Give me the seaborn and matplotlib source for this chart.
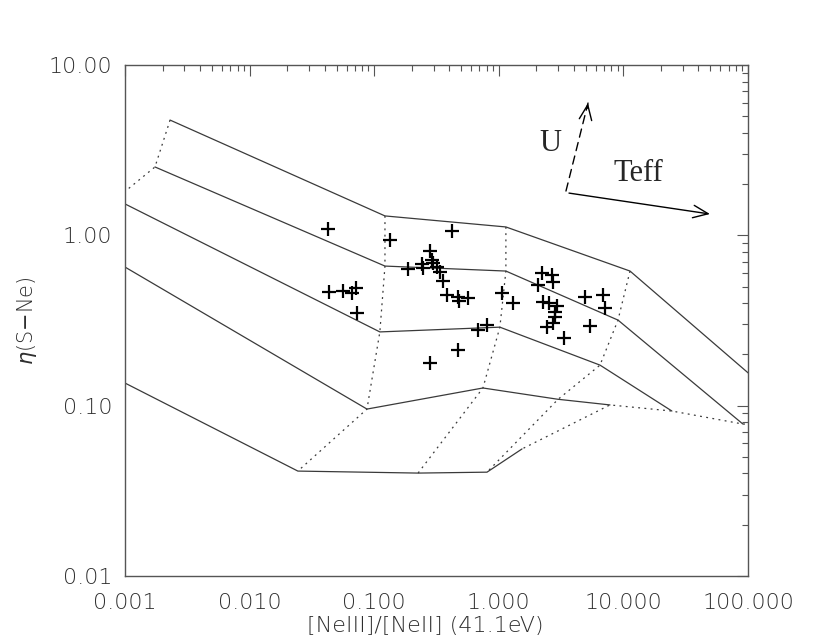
import numpy as np
import pandas as pd
import matplotlib
matplotlib.use("Agg")
import matplotlib.pyplot as plt
import matplotlib.ticker as mticker
import seaborn as sns

# ── Model grid (solid = rows, dotted = columns) ─────────────
# rows of the photoionisation grid, left -> right
row1_x = [0.0023, 0.122, 1.14, 11.3, 300.0]
row1_y = [4.75, 1.30, 1.12, 0.617, 0.078]
row2_x = [0.00174, 0.122, 1.14, 9.05, 91.0]
row2_y = [2.52, 0.660, 0.617, 0.318, 0.078]
row3_x = [0.00084, 0.111, 1.02, 6.49, 24.5]
row3_y = [1.63, 0.271, 0.289, 0.173, 0.093]
row4_x = [0.0005, 0.0875, 0.746, 2.99, 7.80]
row4_y = [0.877, 0.0955, 0.127, 0.109, 0.101]
row5_x = [0.0004, 0.0244, 0.225, 0.804, 1.535]
row5_y = [0.191, 0.0413, 0.0402, 0.0407, 0.0557]

rows_x = [row1_x, row2_x, row3_x, row4_x, row5_x]
rows_y = [row1_y, row2_y, row3_y, row4_y, row5_y]

# observed ratios
obs_ratio = [0.0426, 0.134, 0.421, 0.280, 0.291, 0.242, 0.296, 0.319, 0.187,
             0.246, 0.337, 0.357, 0.384, 0.471, 0.566, 0.480, 0.0434, 0.0562,
             0.0663, 0.0714, 0.0728, 0.681, 0.804, 0.471, 0.280,
             2.22, 2.67, 2.72, 2.06, 1.06, 1.30, 2.26, 2.53, 2.93, 2.83,
             2.83, 2.72, 2.44, 3.34, 4.92, 6.86, 7.12, 5.39]
obs_eta = [1.089, 0.938, 1.060, 0.809, 0.716, 0.678, 0.688, 0.652, 0.634,
           0.643, 0.609, 0.539, 0.446, 0.434, 0.428, 0.411, 0.465, 0.471,
           0.458, 0.490, 0.350, 0.278, 0.297, 0.212, 0.178,
           0.601, 0.585, 0.532, 0.511, 0.458, 0.400, 0.406, 0.400, 0.384, 0.354,
           0.331, 0.306, 0.289, 0.250, 0.434, 0.446, 0.374, 0.293]

x_ticks = [0.001, 0.01, 0.1, 1.0, 10.0, 100.0]
x_ticklabels = ["0.001", "0.010", "0.100", "1.000", "10.000", "100.000"]
y_ticks = [0.01, 0.1, 1.0, 10.0]
y_ticklabels = ["0.01", "0.10", "1.00", "10.00"]

# direction arrows (start, end) and labels
u_arrow = ((3.46, 1.82), (5.20, 5.98))
teff_arrow = ((3.66, 1.77), (49.5, 1.334))
u_label = (2.58, 3.48)
teff_label = (13.1, 2.32)

# ── Style ──────────────────────────────────────────────
sns.set_theme(style="white")
plt.rcParams["font.family"] = ["DejaVu Sans"]
plt.rcParams["mathtext.fontset"] = "dejavusans"

LINE_C = "#3a3a3a"
AX_C = "#555555"
TXT_C = "#2e2e2e"

fig = plt.figure(figsize=(8.3, 6.41), dpi=100)
ax = fig.add_axes([125 / 830, 1 - 576 / 641, 623 / 830, 511 / 641])
ax.set_xscale("log")
ax.set_yscale("log")
ax.set_xlim(1e-3, 1e2)
ax.set_ylim(1e-2, 1e1)

# solid rows
for xs, ys in zip(rows_x, rows_y):
    sns.lineplot(x=xs, y=ys, sort=False, estimator=None, color=LINE_C,
                 linewidth=0.9, ax=ax)

# dotted columns (same node index across rows)
for j in range(len(row1_x)):
    cx = [r[j] for r in rows_x]
    cy = [r[j] for r in rows_y]
    sns.lineplot(x=cx, y=cy, sort=False, estimator=None, color=LINE_C,
                 linewidth=0.9, linestyle=(0, (1.5, 3.5)), ax=ax)

# observations
sns.scatterplot(x=obs_ratio, y=obs_eta, marker="+", s=95, color="black",
                linewidth=1.6, ax=ax, zorder=5)

# arrows
ax.annotate("", xy=u_arrow[1], xytext=u_arrow[0],
            arrowprops=dict(arrowstyle="-", color="black", lw=1.0,
                            linestyle=(0, (6, 4)), shrinkA=0, shrinkB=0))
ax.annotate("", xy=u_arrow[1], xytext=(u_arrow[1][0] * 0.985, u_arrow[1][1] * 0.93),
            arrowprops=dict(arrowstyle="->,head_length=0.6,head_width=0.25",
                            color="black", lw=1.0, shrinkA=0, shrinkB=0,
                            mutation_scale=18))
ax.annotate("", xy=teff_arrow[1], xytext=teff_arrow[0],
            arrowprops=dict(arrowstyle="->,head_length=0.6,head_width=0.25",
                            color="black", lw=1.0, shrinkA=0, shrinkB=0,
                            mutation_scale=18))
ax.text(*u_label, "U", family="Liberation Serif", fontsize=22,
        ha="center", va="center")
ax.text(*teff_label, "Teff", family="Liberation Serif", fontsize=22,
        ha="center", va="center")

# axes cosmetics
ax.xaxis.set_major_locator(mticker.FixedLocator(x_ticks))
ax.yaxis.set_major_locator(mticker.FixedLocator(y_ticks))
ax.xaxis.set_minor_locator(mticker.LogLocator(base=10, subs=np.arange(2, 10)))
ax.yaxis.set_minor_locator(mticker.LogLocator(base=10, subs=np.arange(2, 10)))
ax.set_xticklabels(x_ticklabels)
ax.set_yticklabels(y_ticklabels)
ax.xaxis.set_minor_formatter(mticker.NullFormatter())
ax.yaxis.set_minor_formatter(mticker.NullFormatter())
ax.tick_params(which="both", direction="in", top=True, right=True,
               color=AX_C, width=0.8, labelcolor=TXT_C, labelsize=16)
ax.tick_params(axis="x", which="major", length=8, pad=12)
ax.tick_params(axis="y", which="major", length=8, pad=9)
ax.tick_params(which="minor", length=4)
for lbl in ax.get_xticklabels() + ax.get_yticklabels():
    lbl.set_fontweight("light")
for sp in ax.spines.values():
    sp.set_color(AX_C)
    sp.set_linewidth(1.0)

ax.set_xlabel("[NeIII]/[NeII] (41.1eV)", fontsize=16, color=TXT_C,
              fontweight="light")
ax.set_ylabel(r"$\eta$(S$-$Ne)", fontsize=15, color=TXT_C, fontweight="light")
ax.xaxis.set_label_coords((425 - 125) / 623, -(626 - 576) / 511)
ax.yaxis.set_label_coords((27 - 125) / 623, 0.5)
ax.xaxis.label.set_va("center")
ax.yaxis.label.set_va("center")

fig.savefig("out.png", dpi=100)
